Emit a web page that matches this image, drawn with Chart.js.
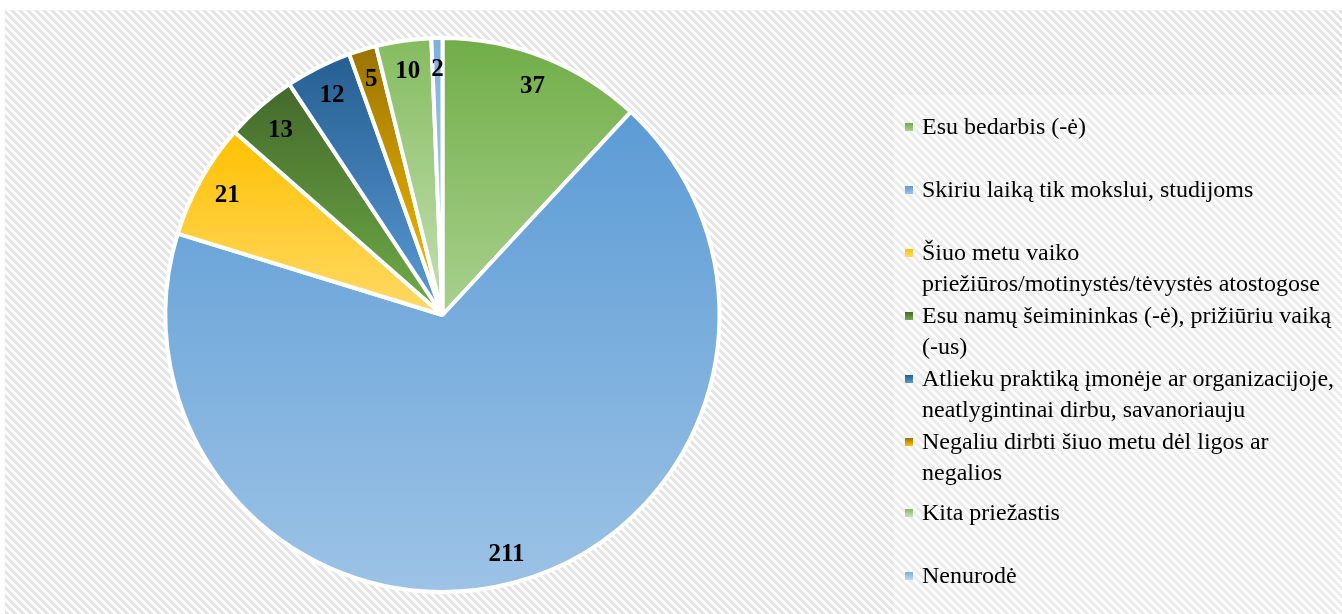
<!DOCTYPE html>
<html lang="lt">
<head>
<meta charset="utf-8">
<title>Neužimtumo priežastys</title>
<script src="https://cdn.jsdelivr.net/npm/chart.js@4.4.1/dist/chart.umd.min.js"></script>
<style>
  html, body { margin: 0; padding: 0; background: #ffffff; }
  #wrap { position: relative; width: 1342px; height: 614px; }
</style>
</head>
<body>
<div id="wrap"><canvas id="pie" width="1342" height="614"></canvas></div>
<script>
// Categories (legend text, one entry per line of the wrapped label)
const categories = [
  ["Esu bedarbis (-ė)"],
  ["Skiriu laiką tik mokslui, studijoms"],
  ["Šiuo metu vaiko", "priežiūros/motinystės/tėvystės atostogose"],
  ["Esu namų šeimininkas (-ė), prižiūriu vaiką", "(-us)"],
  ["Atlieku praktiką įmonėje ar organizacijoje,", "neatlygintinai dirbu, savanoriauju"],
  ["Negaliu dirbti šiuo metu dėl ligos ar", "negalios"],
  ["Kita priežastis"],
  ["Nenurodė"]
];

// Number of respondents per category
const counts = [37, 211, 21, 13, 12, 5, 10, 2];

// Slice fills: darker tone at the top, lighter tone at the bottom
const topColors    = ["#70AD47", "#5B9BD5", "#FFC000", "#43682B", "#255E91", "#997300", "#84BC5E", "#7DAFDD"];
const bottomColors = ["#A9D18E", "#9DC3E6", "#FFD966", "#70AD47", "#5B9BD5", "#FFC000", "#C5E0B4", "#BDD7EE"];

// Diagonal hatch used for the chart background
function makeHatch(gray) {
  const size = 8;
  const tile = document.createElement("canvas");
  tile.width = size; tile.height = size;
  const tctx = tile.getContext("2d");
  const img = tctx.createImageData(size, size);
  for (let y = 0; y < size; y++) {
    for (let x = 0; x < size; x++) {
      const k = ((x - y) % size + size) % size;
      const v = k < 4 ? gray : 255;
      const i = (y * size + x) * 4;
      img.data[i] = v; img.data[i + 1] = v; img.data[i + 2] = v; img.data[i + 3] = 255;
    }
  }
  tctx.putImageData(img, 0, 0);
  return tile;
}

const backgroundPlugin = {
  id: "hatchedBackground",
  beforeDraw(chart) {
    const ctx = chart.ctx;
    ctx.save();
    ctx.fillStyle = "#ffffff";
    ctx.fillRect(0, 0, chart.width, chart.height);
    ctx.fillStyle = ctx.createPattern(makeHatch(228), "repeat");
    ctx.fillRect(5, 10, chart.width - 5, chart.height - 10);
    // lighter panel behind the legend
    ctx.fillStyle = "rgba(255,255,255,0.3)";
    ctx.fillRect(893, 95, chart.width - 893, chart.height - 95);
    ctx.restore();
  }
};

// Vertical gradient spanning the bounding box of each slice
function sliceGradient(context) {
  const chart = context.chart;
  const i = context.dataIndex;
  const area = chart.chartArea;
  if (!area || i === undefined) return topColors[i] || topColors[0];
  const cx = (area.left + area.right) / 2;
  const cy = (area.top + area.bottom) / 2;
  const r = Math.min(area.right - area.left, area.bottom - area.top) / 2;
  const total = counts.reduce((a, b) => a + b, 0);
  let start = -Math.PI / 2;
  for (let k = 0; k < i; k++) start += counts[k] / total * Math.PI * 2;
  const end = start + counts[i] / total * Math.PI * 2;
  const ys = [cy, cy + r * Math.sin(start), cy + r * Math.sin(end)];
  for (let a = -Math.PI / 2; a <= Math.PI * 2; a += Math.PI / 2) {
    if (a >= start && a <= end) ys.push(cy + r * Math.sin(a));
  }
  const top = Math.min(...ys), bottom = Math.max(...ys);
  const g = chart.ctx.createLinearGradient(0, top, 0, bottom);
  g.addColorStop(0, topColors[i]);
  g.addColorStop(1, bottomColors[i]);
  return g;
}

const valueLabelPlugin = {
  id: "valueLabels",
  afterDatasetsDraw(chart) {
    const ctx = chart.ctx;
    const meta = chart.getDatasetMeta(0);
    ctx.save();
    ctx.font = "bold 25px 'Liberation Serif', 'Times New Roman', serif";
    ctx.fillStyle = "#000000";
    ctx.textAlign = "center";
    ctx.textBaseline = "middle";
    meta.data.forEach((arc, i) => {
      const p = arc.getProps(["x", "y", "startAngle", "endAngle", "outerRadius"], true);
      const mid = (p.startAngle + p.endAngle) / 2;
      const rr = p.outerRadius * 0.89;
      ctx.fillText(String(counts[i]), p.x + Math.cos(mid) * rr, p.y + Math.sin(mid) * rr + 1);
    });
    ctx.restore();
  }
};

const legendPlugin = {
  id: "wrappedLegend",
  afterDraw(chart) {
    const ctx = chart.ctx;
    const itemTop = [127, 190, 253, 316, 379, 442, 513, 576];
    const lineGap = 31;
    ctx.save();
    ctx.font = "24px 'Liberation Serif', 'Times New Roman', serif";
    ctx.textBaseline = "middle";
    ctx.textAlign = "left";
    chart.data.labels.forEach((lines, i) => {
      const y0 = itemTop[i];
      const g = ctx.createLinearGradient(0, y0 - 4, 0, y0 + 4);
      g.addColorStop(0, topColors[i]);
      g.addColorStop(1, bottomColors[i]);
      ctx.fillStyle = g;
      ctx.fillRect(905, y0 - 4, 8, 8);
      ctx.fillStyle = "#000000";
      lines.forEach((line, j) => ctx.fillText(line, 922, y0 + j * lineGap + 1));
    });
    ctx.restore();
  }
};

new Chart(document.getElementById("pie"), {
  type: "pie",
  data: {
    labels: categories,
    datasets: [{
      data: counts,
      backgroundColor: sliceGradient,
      borderColor: "#ffffff",
      borderWidth: 4
    }]
  },
  options: {
    responsive: false,
    animation: false,
    layout: { padding: { top: 36, bottom: 20, left: 163, right: 620 } },
    plugins: {
      legend: { display: false },
      tooltip: { enabled: false }
    }
  },
  plugins: [backgroundPlugin, valueLabelPlugin, legendPlugin]
});
</script>
</body>
</html>
